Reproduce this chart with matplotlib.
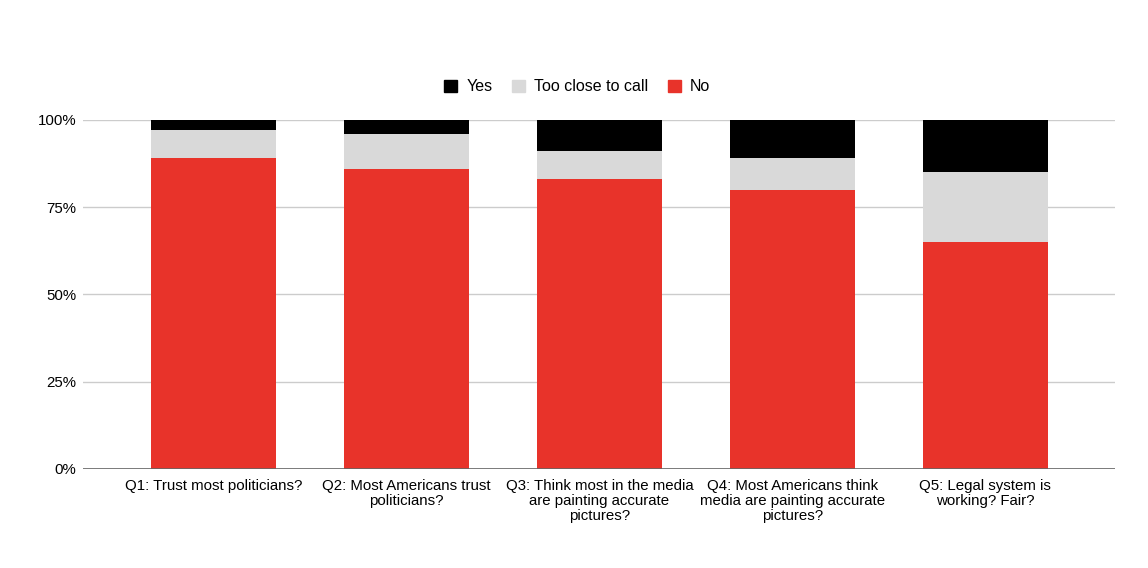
import numpy as np
import matplotlib.pyplot as plt
from matplotlib.patches import Patch

plt.rcParams['font.family'] = ['Liberation Sans', 'DejaVu Sans']

questions = [
    "Q1: Trust most politicians?",
    "Q2: Most Americans trust\npoliticians?",
    "Q3: Think most in the media\nare painting accurate\npictures?",
    "Q4: Most Americans think\nmedia are painting accurate\npictures?",
    "Q5: Legal system is\nworking? Fair?",
]
no_vals = [89, 86, 83, 80, 65]
close_vals = [8, 10, 8, 9, 20]
yes_vals = [3, 4, 9, 11, 15]

red = "#e8332a"
grey = "#d9d9d9"
black = "#000000"

fig = plt.figure(figsize=(11.48, 5.68), dpi=100)
ax = fig.add_axes([0.0723, 0.1743, 0.8987, 0.6145])

x = np.arange(len(questions))
w = 0.65
no = np.array(no_vals)
close = np.array(close_vals)
yes = np.array(yes_vals)
ax.bar(x, no, w, color=red, zorder=3)
ax.bar(x, close, w, bottom=no, color=grey, zorder=3)
ax.bar(x, yes, w, bottom=no + close, color=black, zorder=3)

ax.set_xlim(-0.676, 4.67)
ax.set_ylim(0, 100)
ax.set_yticks([0, 25, 50, 75, 100])
ax.set_yticklabels(["0%", "25%", "50%", "75%", "100%"], fontsize=10.8)
ax.yaxis.grid(True, color="#cccccc", linewidth=1, zorder=0)
ax.axhline(0, color="#666666", linewidth=1.2, zorder=4)
for s in ax.spines.values():
    s.set_visible(False)
ax.tick_params(axis='both', length=0)
ax.tick_params(axis='y', pad=5)
ax.tick_params(axis='x', pad=7)
ax.set_xticks(x)
ax.set_xticklabels(questions, fontsize=10.8, linespacing=1.1)

handles = [Patch(color=black), Patch(color=grey), Patch(color=red)]
fig.legend(handles, ["Yes", "Too close to call", "No"], loc="center",
           bbox_to_anchor=(0.503, 0.847), ncol=3, frameon=False, fontsize=11.5,
           handlelength=0.8, handleheight=0.8, handletextpad=0.6, columnspacing=1.2)

fig.savefig("out.png", dpi=100)
